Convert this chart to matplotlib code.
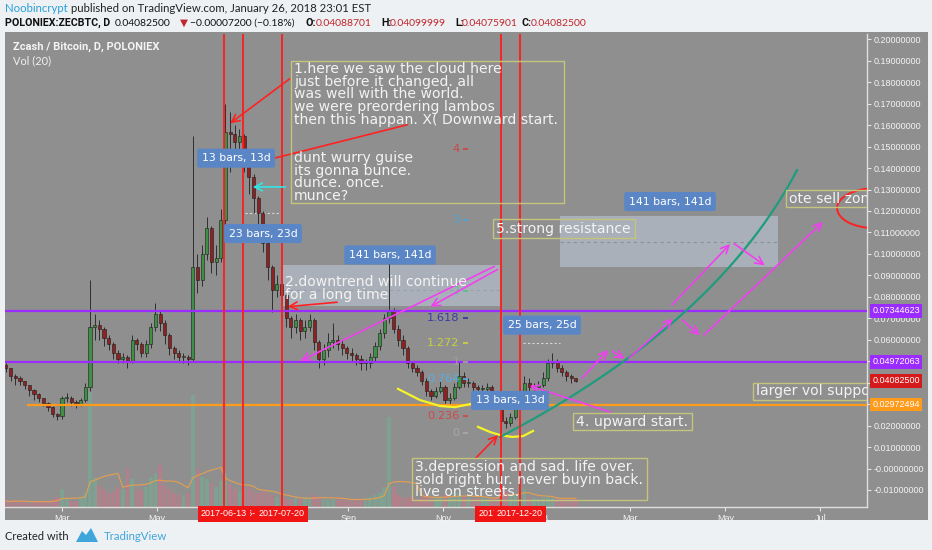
import numpy as np
import pandas as pd
import matplotlib
matplotlib.use("Agg")
import matplotlib.pyplot as plt
import matplotlib.transforms as mtransforms
from matplotlib.patches import Rectangle, Ellipse, Polygon

W, H = 932, 550
T0 = pd.Timestamp("2017-03-01")

# ---- price data (3-day candles) ----
bar_start = "2017-01-24"
first_open = 0.048
closes = [0.047, 0.043, 0.042, 0.041, 0.039, 0.0365, 0.0345, 0.033, 0.0305, 0.0285,
          0.0255, 0.0245, 0.033, 0.033, 0.031, 0.030, 0.032, 0.038, 0.066, 0.067,
          0.065, 0.061, 0.058, 0.054, 0.051, 0.052, 0.050, 0.060, 0.058, 0.054,
          0.058, 0.066, 0.072, 0.068, 0.062, 0.056, 0.054, 0.052, 0.052, 0.051,
          0.094, 0.088, 0.100, 0.112, 0.096, 0.098, 0.116, 0.157, 0.156, 0.152,
          0.155, 0.146, 0.136, 0.126, 0.119, 0.105, 0.094, 0.083, 0.086, 0.081,
          0.070, 0.066, 0.069, 0.064, 0.066, 0.069, 0.059, 0.051, 0.055, 0.059,
          0.060, 0.058, 0.056, 0.054, 0.053, 0.051, 0.049, 0.049, 0.052, 0.057,
          0.063, 0.070, 0.074, 0.065, 0.060, 0.056, 0.049, 0.047, 0.045, 0.041,
          0.036, 0.034, 0.036, 0.038, 0.032, 0.033, 0.038, 0.043, 0.040, 0.040,
          0.038, 0.037, 0.037, 0.038, 0.035, 0.032, 0.022, 0.021, 0.024, 0.030,
          0.036, 0.040, 0.038, 0.038, 0.039, 0.042, 0.049, 0.050, 0.047, 0.045,
          0.043, 0.042, 0.0408]
highs = [0.049, 0.047, 0.044, 0.043, 0.041, 0.039, 0.037, 0.035, 0.033, 0.031,
         0.029, 0.026, 0.034, 0.035, 0.034, 0.032, 0.033, 0.040, 0.088, 0.072,
         0.069, 0.066, 0.062, 0.059, 0.055, 0.054, 0.053, 0.062, 0.061, 0.059,
         0.060, 0.068, 0.077, 0.074, 0.069, 0.063, 0.057, 0.055, 0.054, 0.053,
         0.155, 0.100, 0.104, 0.117, 0.113, 0.104, 0.121, 0.170, 0.166, 0.160,
         0.158, 0.156, 0.147, 0.137, 0.127, 0.120, 0.106, 0.095, 0.090, 0.087,
         0.082, 0.071, 0.072, 0.070, 0.069, 0.072, 0.070, 0.060, 0.058, 0.063,
         0.068, 0.062, 0.060, 0.057, 0.056, 0.054, 0.053, 0.051, 0.054, 0.059,
         0.065, 0.072, 0.096, 0.075, 0.067, 0.062, 0.057, 0.050, 0.048, 0.046,
         0.042, 0.037, 0.038, 0.041, 0.039, 0.035, 0.040, 0.050, 0.045, 0.042,
         0.041, 0.039, 0.039, 0.040, 0.039, 0.036, 0.033, 0.024, 0.026, 0.031,
         0.038, 0.043, 0.042, 0.040, 0.041, 0.045, 0.051, 0.054, 0.051, 0.048,
         0.046, 0.044, 0.0423]
lows = [0.045, 0.041, 0.039, 0.039, 0.037, 0.034, 0.032, 0.031, 0.029, 0.027,
        0.024, 0.0226, 0.023, 0.031, 0.029, 0.028, 0.029, 0.031, 0.036, 0.060,
        0.060, 0.057, 0.055, 0.051, 0.049, 0.049, 0.047, 0.049, 0.055, 0.052,
        0.052, 0.056, 0.064, 0.064, 0.058, 0.053, 0.051, 0.050, 0.049, 0.048,
        0.050, 0.082, 0.085, 0.097, 0.091, 0.090, 0.096, 0.112, 0.138, 0.147,
        0.147, 0.138, 0.128, 0.119, 0.112, 0.101, 0.088, 0.073, 0.080, 0.077,
        0.066, 0.061, 0.063, 0.060, 0.061, 0.064, 0.055, 0.047, 0.048, 0.052,
        0.056, 0.055, 0.053, 0.051, 0.050, 0.048, 0.046, 0.046, 0.047, 0.050,
        0.055, 0.061, 0.068, 0.063, 0.057, 0.053, 0.047, 0.045, 0.043, 0.039,
        0.034, 0.032, 0.033, 0.035, 0.030, 0.030, 0.032, 0.037, 0.038, 0.038,
        0.036, 0.035, 0.035, 0.036, 0.033, 0.030, 0.0164, 0.019, 0.020, 0.023,
        0.029, 0.035, 0.036, 0.036, 0.037, 0.038, 0.041, 0.047, 0.045, 0.043,
        0.041, 0.040, 0.0404]
volumes = [6, 5, 7, 5, 6, 4, 5, 6, 5, 6, 8, 10, 18, 8, 6, 6, 9, 14, 115, 30,
           22, 18, 14, 16, 20, 18, 39, 28, 18, 16, 20, 30, 34, 42, 22, 18, 14, 12, 12, 14,
           112, 39, 30, 28, 24, 20, 26, 34, 22, 18, 16, 18, 20, 16, 14, 16, 14, 12, 10, 10,
           8, 7, 9, 8, 10, 9, 12, 10, 8, 7, 8, 9, 7, 8, 6, 7, 8, 9, 10, 12,
           14, 20, 90, 20, 12, 10, 9, 11, 8, 10, 12, 9, 8, 10, 12, 9, 14, 14, 10, 9,
           8, 9, 10, 8, 9, 10, 20, 16, 12, 12, 12, 18, 10, 9, 8, 9, 10, 9, 8, 8,
           9, 8, 8]

# ---- levels ----
purple_levels = [0.07344623, 0.04972063]
support_level = 0.02972494
last_price = 0.04082500
price_ticks = [-0.01, 0.0, 0.01, 0.02, 0.03, 0.04, 0.05, 0.06, 0.07, 0.08, 0.09, 0.10,
               0.11, 0.12, 0.13, 0.14, 0.15, 0.16, 0.17, 0.18, 0.19, 0.20]
marker_dates = ["2017-06-25", "2017-06-13", "2017-07-20", "2017-12-08", "2017-12-20"]
month_ticks = ["2017-03-01", "2017-05-01", "2017-07-01", "2017-09-01", "2017-11-01",
               "2018-01-01", "2018-03-01", "2018-05-01", "2018-07-01"]
month_labels = ["Mar", "May", "Jul", "Sep", "Nov", "2018", "Mar", "May", "Jul"]
fib_levels = [0, 0.236, 0.764, 1, 1.272, 1.618, 2, 3, 4]
fib_colors = ["#a8a8a8", "#d04848", "#5aaee0", "#a0a0a0", "#c8d040", "#3a3aa8",
              "#5cc08a", "#4aa6d8", "#c84848"]
fib_zero, fib_one = 0.0165, 0.0496

bg = "#8f8f8f"
fig = plt.figure(figsize=(W / 100, H / 100), dpi=100, facecolor="#eef1f4")


def fx(x):
    return x / W


def fy(y):
    return 1 - y / H


fig.patches.append(Rectangle((fx(5), fy(520)), fx(928) - fx(5), fy(32) - fy(520),
                             transform=fig.transFigure, facecolor=bg, edgecolor="none", zorder=0))

rect = [fx(5), fy(507), fx(867) - fx(5), fy(34) - fy(507)]
vax = fig.add_axes(rect, zorder=1)
ax = fig.add_axes(rect, zorder=2)
vax.set_facecolor(bg)
ax.set_facecolor("none")
xlim = (-36.6, 517.0)
ax.set_xlim(*xlim)
vax.set_xlim(*xlim)
ax.set_ylim(-0.01794, 0.20247)
vax.set_ylim(0, 473)
vax.axis("off")

dates = pd.date_range(bar_start, periods=len(closes), freq="3D")
xs = np.array((dates - T0).days, dtype=float)
c = np.array(closes)
o = np.concatenate([[first_open], c[:-1]])
up = c >= o

# volume
vcol = np.where(up, "#6cb894", "#dc6e86")
vax.bar(xs, volumes, width=2.4, color=vcol, alpha=0.45, linewidth=0)
vma = pd.Series(volumes).rolling(7, min_periods=1).mean()
vax.plot(xs, vma, color="#f0a048", lw=0.8, alpha=0.9)

# candles
ax.vlines(xs, lows, highs, color="#2e2e2e", lw=0.7, zorder=3)
body_lo = np.minimum(o, c)
body_h = np.maximum(np.abs(c - o), 0.0004)
ax.bar(xs, body_h, bottom=body_lo, width=2.0, color=np.where(up, "#3f8f45", "#8c2222"),
       edgecolor="#1c1c1c", linewidth=0.4, zorder=3.1)

# horizontal levels
for lv in purple_levels:
    ax.axhline(lv, color="#9b2cff", lw=1.6, zorder=4)
ax.hlines(support_level, -22.5, xlim[1], color="#ff9a1a", lw=1.6, zorder=4)

# measured ranges (light boxes)
ax.add_patch(Rectangle((141.9, 0.0759), 281.3 - 141.9, 0.0948 - 0.0759,
                       facecolor="#c6d2e4", alpha=0.5, edgecolor="none", zorder=2))
ax.add_patch(Rectangle((319.8, 0.0939), 459.9 - 319.8, 0.1177 - 0.0939,
                       facecolor="#c6d2e4", alpha=0.5, edgecolor="none", zorder=2))
ax.hlines([0.0832], 141.9, 281.3, colors="#9aa0a8", lw=0.8, linestyles=(0, (3, 3)), zorder=2.5)
ax.hlines([0.1055], 319.8, 459.9, colors="#8a9098", lw=0.8, linestyles=(0, (3, 3)), zorder=2.5)
ax.hlines([0.1191], 117.5, 140.5, colors="#d8d8d8", lw=0.8, linestyles=(0, (2, 2)), zorder=2.5)
ax.hlines([0.0587], 296.1, 319.8, colors="#d8d8d8", lw=0.8, linestyles=(0, (2, 2)), zorder=2.5)

# fib labels
for lvl, col in zip(fib_levels, fib_colors):
    p = fib_zero + lvl * (fib_one - fib_zero)
    ax.text(255.3, p, f"{lvl:g}", color=col, fontsize=8.2, ha="right", va="center", zorder=5)
    ax.hlines(p, 257.5, 260.8, color=col, lw=1.3, zorder=5)

# curves
smile1 = ([215.8, 229.9, 242.8, 252.4, 262.0], [0.0371, 0.0319, 0.0291, 0.0286, 0.0300])
smile2 = ([267.2, 274.9, 281.3, 289.0, 296.1, 302.5], [0.0194, 0.0170, 0.0156, 0.0147, 0.0151, 0.0175])
for sx, sy in (smile1, smile2):
    ax.plot(sx, sy, color="#f4f42a", lw=1.6, zorder=6)
# curve drawing tool: start, control, end
trend_pts = np.array([[281.3, 0.0147], [420.0, 0.067], [472.1, 0.1391]])
t = np.linspace(0, 1, 80)[:, None]
curve = (1 - t) ** 2 * trend_pts[0] + 2 * (1 - t) * t * trend_pts[1] + t ** 2 * trend_pts[2]
ax.plot(curve[:, 0], curve[:, 1], color="#1f9c7c", lw=1.6, zorder=6)

# vertical markers
for d in marker_dates:
    ax.axvline((pd.Timestamp(d) - T0).days, color="#ff1c1c", lw=1.3, zorder=7)

# arrows: (tail, head, colour)
arrows = [
    ((279.4, 0.0948), (151.6, 0.0496), "#f040f0"),
    ((281.3, 0.0934), (235.1, 0.0748), "#f040f0"),
    ((353.9, 0.0259), (298.7, 0.0389), "#f040f0"),
    ((332.7, 0.0412), (352.0, 0.0561), "#f040f0"),
    ((352.0, 0.0552), (362.9, 0.0506), "#f040f0"),
    ((362.9, 0.0506), (393.7, 0.0706), "#f040f0"),
    ((390.5, 0.0753), (430.3, 0.1055), "#f040f0"),
    ((396.9, 0.0701), (411.0, 0.0613), "#f040f0"),
    ((411.0, 0.0613), (490.0, 0.1158), "#f040f0"),
    ((430.3, 0.1055), (452.8, 0.0939), "#f040f0"),
    ((147.7, 0.1824), (106.6, 0.1601), "#ff2222"),
    ((223.5, 0.1605), (118.8, 0.1414), "#ff2222"),
    ((178.5, 0.0776), (143.2, 0.0753), "#ff2222"),
    ((264.6, 0.0040), (281.3, 0.0165), "#ff2222"),
    ((145.2, 0.1312), (120.7, 0.1312), "#30e6e6"),
]
for tail, head, col in arrows:
    ax.annotate("", xy=head, xytext=tail, zorder=8,
                arrowprops=dict(arrowstyle="->", color=col, lw=1.2, mutation_scale=14))

ax.add_patch(Ellipse((522.2, 0.1213), 48.8, 0.01864, fill=False, edgecolor="#ff2020", lw=1.4, zorder=8))

# text notes
note_col = "#f3f3f3"
box_col = "#c4c47c"
step = 0.00592
notes = [
    ((147.1, 0.1237, 322.4, 0.1899), (149.0, 0.1862),
     ["1.here we saw the cloud here", "just before it changed. all", "was well with the world.",
      "we were preordering lambos", "then this happan. X( Downward start.", "", "",
      "dunt wurry guise", "its gonna bunce.", "dunce. once.", "munce?"]),
    ((224.8, -0.0147, 375.7, 0.0049), (226.7, 0.0007),
     ["3.depression and sad. life over.", "sold right hur. never buyin back.", "live on streets."]),
    ((328.2, 0.0179, 404.6, 0.0259), (330.1, 0.0219), ["4. upward start."]),
    ((276.8, 0.1074, 368.0, 0.1162), (278.7, 0.1117), ["5.strong resistance"]),
    ((443.8, 0.0319, 530.0, 0.0398), (445.7, 0.0359), ["larger vol support"]),
    ((465.0, 0.1218, 530.0, 0.1298), (466.9, 0.1258), ["ote sell zone"]),
    (None, (143.2, 0.0869), ["2.downtrend will continue", "for a long time"]),
]
for box, (tx, ty), lines in notes:
    if box is not None:
        ax.add_patch(Rectangle((box[0], box[1]), box[2] - box[0], box[3] - box[1],
                               fill=False, edgecolor=box_col, lw=1.0, zorder=8))
    for k, line in enumerate(lines):
        ax.text(tx, ty - k * step, line, color=note_col, fontsize=10.1, ha="left", va="center",
                zorder=9, clip_on=True)

# bar-count labels
rulers = [(111.8, 0.1446, "13 bars, 13d"), (129.1, 0.1095, "23 bars, 23d"),
          (210.7, 0.0995, "141 bars, 141d"), (308.3, 0.0668, "25 bars, 25d"),
          (287.7, 0.0317, "13 bars, 13d"), (390.5, 0.1244, "141 bars, 141d")]
for rx, ry, s in rulers:
    ax.text(rx, ry, s, color="white", fontsize=7.8, ha="center", va="center", zorder=9,
            bbox=dict(boxstyle="round,pad=0.42,rounding_size=0.2", fc="#5b86c6", ec="none"))

# axes styling
for side in ("top", "left"):
    ax.spines[side].set_visible(False)
for side in ("right", "bottom"):
    ax.spines[side].set_color("#dedede")
    ax.spines[side].set_linewidth(1.0)
ax.yaxis.tick_right()
ax.set_yticks(price_ticks)
ax.set_yticklabels(["-0.01000000" if v < 0 else ("-0.00000000" if v == 0 else f"{v:.8f}")
                    for v in price_ticks])
ax.set_xticks([(pd.Timestamp(m) - T0).days for m in month_ticks])
ax.set_xticklabels(month_labels)
ax.tick_params(axis="both", colors="#e6e6e6", labelcolor="#f4f4f4", labelsize=6.5, length=3, pad=2)
for lab in ax.get_xticklabels() + ax.get_yticklabels():
    lab.set_family("Liberation Sans")

# right axis price badges
yblend = mtransforms.blended_transform_factory(ax.transAxes, ax.transData)
for lv, col in [(purple_levels[0], "#9b2cff"), (purple_levels[1], "#9b2cff"),
                (last_price, "#d41a1a"), (support_level, "#ff9a1a")]:
    ax.text(1.006, lv, f"{lv:.8f}", transform=yblend, color="white", fontsize=6.5,
            family="Liberation Sans", ha="left", va="center", clip_on=False, zorder=10,
            bbox=dict(boxstyle="square,pad=0.25", fc=col, ec="none"))

# date badges in time axis
xblend = mtransforms.blended_transform_factory(ax.transData, ax.transAxes)
for d in marker_dates:
    ax.text((pd.Timestamp(d) - T0).days, -0.0145, d, transform=xblend, color="white",
            fontsize=6.5, family="Liberation Sans", ha="center", va="center", clip_on=False,
            zorder=10, bbox=dict(boxstyle="square,pad=0.35", fc="#f01414", ec="none"))

# headers
fig.text(fx(13), fy(47), "Zcash / Bitcoin, D, POLONIEX", color="#f4f4f4", fontsize=8.0,
         family="Roboto", weight="bold", va="center")
fig.text(fx(13), fy(61), "Vol (20)", color="#f0f0f0", fontsize=7.9, family="Lato", va="center")

fig.text(fx(5), fy(9), "Noobincrypt", color="#2b9fd9", fontsize=8.2, family="Lato", va="center")
fig.text(fx(71), fy(9), "published on TradingView.com, January 26, 2018 23:01 EST",
         color="#222222", fontsize=8.2, family="Lato", va="center")
hdr = [(5, "POLONIEX:ZECBTC, D", "#111111", "bold"), (115, "0.04082500", "#111111", "normal"),
       (180, "\u25bc", "#c0262b", "normal"), (190, "\u22120.00007200 (\u22120.18%)", "#111111", "normal"),
       (306, "O:", "#111111", "bold"), (316, "0.04088701", "#c0262b", "normal"),
       (381, "H:", "#111111", "bold"), (390, "0.04099999", "#c0262b", "normal"),
       (455, "L:", "#111111", "bold"), (462, "0.04075901", "#c0262b", "normal"),
       (522, "C:", "#111111", "bold"), (531, "0.04082500", "#c0262b", "normal")]
for hx, s, col, wt in hdr:
    fam = ["Roboto", "DejaVu Sans"] if wt == "bold" else ["Lato", "DejaVu Sans"]
    fig.text(fx(hx), fy(23), s, color=col, fontsize=7.7 if wt == "bold" else 7.5,
             family=fam, weight=wt, va="center")

# footer
fig.text(fx(5), fy(536), "Created with", color="#222222", fontsize=8.0, family="Lato", va="center")
fig.text(fx(104), fy(536), "TradingView", color="#3fa6dc", fontsize=8.2, family="Lato", va="center")
logo = [(76, 542), (82, 531), (86, 535), (91, 528), (98, 542)]
fig.patches.append(Polygon([(fx(a), fy(b)) for a, b in logo], closed=True,
                           transform=fig.transFigure, facecolor="#3fa6dc", edgecolor="none"))

fig.savefig("out.png", dpi=100, facecolor=fig.get_facecolor())
